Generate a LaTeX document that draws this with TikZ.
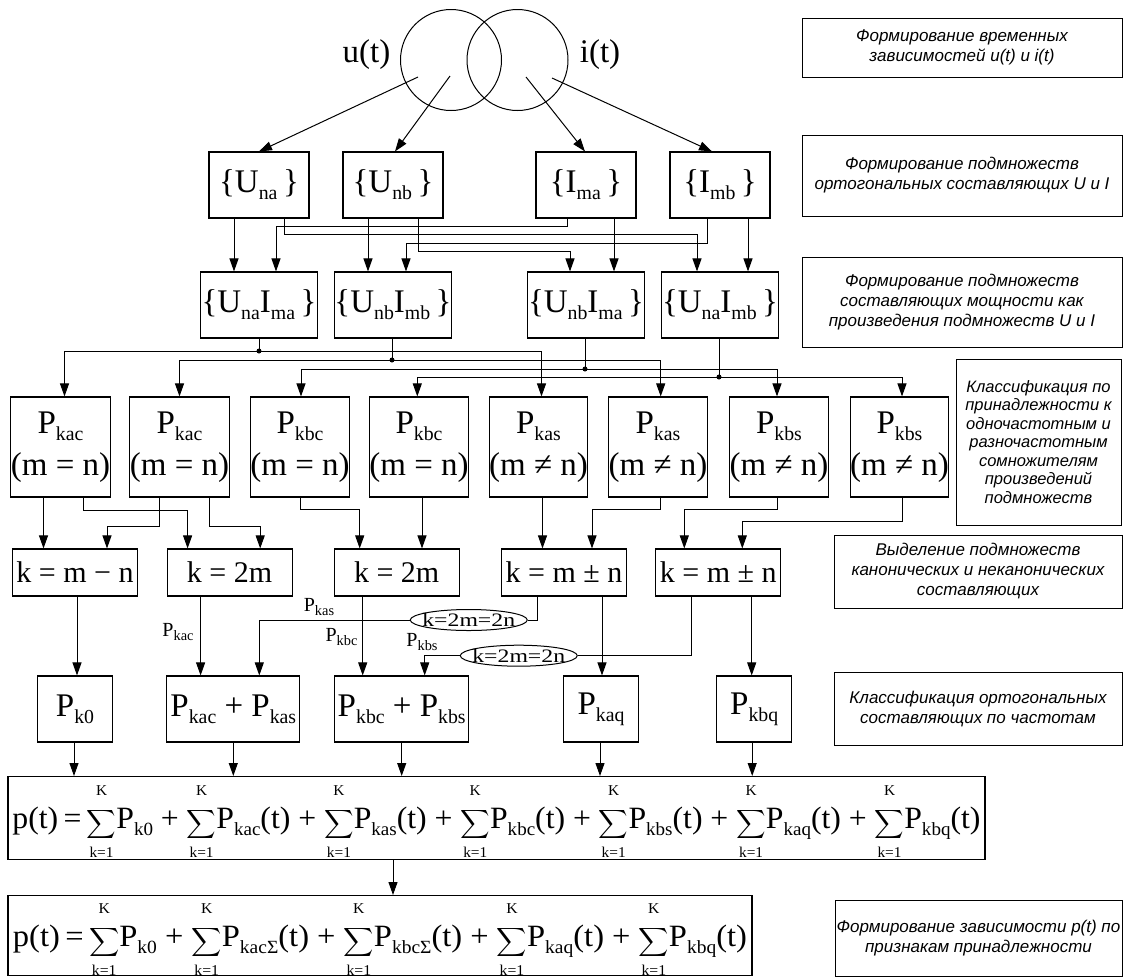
\documentclass[tikz,border=0pt]{standalone}
\usepackage{graphicx}
\usepackage{fontspec}
\setmainfont{Liberation Serif}
\newfontfamily\lsans{Liberation Sans}
\usetikzlibrary{arrows.meta,shapes.geometric}
\newcommand\lsub[1]{\raisebox{-0.22em}{\scalebox{0.6}{#1}}}
\newcommand\msub[1]{\raisebox{-0.22em}{\scalebox{0.72}{#1}}}
\newcommand\sumK{\hbox{%
 \setbox0\hbox{\resizebox*{!}{32pt}{\fontsize{10}{12}\selectfont$\displaystyle\sum$}}%
 \setbox2\hbox{\fontsize{15}{15}\selectfont K}%
 \setbox4\hbox{\fontsize{15}{15}\selectfont k=1}%
 \dimen0=\wd0 \ifdim\wd4>\dimen0 \dimen0=\wd4 \fi
 \hbox to\dimen0{\hss\raise\dimexpr\dp0-12pt\relax\box0\hss}%
 \kern-\dimen0
 \hbox to\dimen0{\hss\raise33pt\box2\hss}%
 \kern-\dimen0
 \hbox to\dimen0{\hss\lower29pt\box4\hss}}}
\tikzset{
  ln/.style={line width=1pt},
  arr/.style={line width=1pt, -{Triangle[length=13pt,width=9pt]}},
  bx/.style={draw, line width=1.1pt, inner sep=0pt, align=center},
  r2/.style={bx, minimum width=100pt, minimum height=66pt, font=\fontsize{33}{36}\selectfont},
  r3/.style={bx, minimum width=117pt, minimum height=66pt, font=\fontsize{33}{36}\selectfont},
  r4/.style={bx, minimum width=96pt, minimum height=100pt, font=\fontsize{33}{42}\selectfont},
  r5/.style={bx, minimum width=125pt, minimum height=47pt, font=\fontsize{30}{36}\selectfont},
  r6/.style={bx, minimum height=66pt, font=\fontsize{33}{36}\selectfont},
  desc/.style={draw, line width=1pt, inner sep=0pt, align=center, font=\lsans\itshape\fontsize{17}{20}\selectfont},
  lbl/.style={font=\fontsize{20}{22}\selectfont, inner sep=0pt},
  ell/.style={draw, ellipse, line width=1pt, inner sep=0pt, minimum width=117pt, minimum height=21pt},
  etxt/.style={inner sep=0pt, font=\fontsize{19}{21}\selectfont},
  dot/.style={circle, fill, inner sep=0pt, minimum size=5pt},
  circ/.style={draw, circle, line width=1pt, minimum size=101pt, inner sep=0pt},
  fbox/.style={bx, font=\fontsize{31}{36}\selectfont},
}
\begin{document}
\begin{tikzpicture}[x=1pt,y=-1pt]
\useasboundingbox (0,0) rectangle (1125,978);

% top circles
\node[circ] (cu) at (451,60) {};
\node[circ] (ci) at (517.5,60) {};
\node[font=\fontsize{33}{36}\selectfont, inner sep=0pt] (lu) at (366.5,55) {u(t)};
\node[font=\fontsize{33}{36}\selectfont, inner sep=0pt] (li) at (600,55) {i(t)};
\coordinate (s1) at (418,77);
\coordinate (s2) at (450,76);
\coordinate (s3) at (526,77);
\coordinate (s4) at (552,78);

% row 2
\node[r2] (una) at (259,185) {\{U\lsub{na}\,\}};
\node[r2] (unb) at (393,185) {\{U\lsub{nb}\,\}};
\node[r2] (ima) at (586,185) {\{I\lsub{ma}\,\}};
\node[r2] (imb) at (720,185) {\{I\lsub{mb}\,\}};

% row 3
\node[r3] (uaia) at (259,305) {\{U\lsub{na}I\lsub{ma}\,\}};
\node[r3] (ubib) at (393,305) {\{U\lsub{nb}I\lsub{mb}\,\}};
\node[r3] (ubia) at (586,305) {\{U\lsub{nb}I\lsub{ma}\,\}};
\node[r3] (uaib) at (720,305) {\{U\lsub{na}I\lsub{mb}\,\}};

% row 4
\node[r4] (p1) at (60.5,447) {P\lsub{kac}\\(m = n)};
\node[r4] (p2) at (179.5,447) {P\lsub{kac}\\(m = n)};
\node[r4] (p3) at (300,447) {P\lsub{kbc}\\(m = n)};
\node[r4] (p4) at (419,447) {P\lsub{kbc}\\(m = n)};
\node[r4] (p5) at (538.5,447) {P\lsub{kas}\\(m ≠ n)};
\node[r4] (p6) at (658,447) {P\lsub{kas}\\(m ≠ n)};
\node[r4] (p7) at (779,447) {P\lsub{kbs}\\(m ≠ n)};
\node[r4] (p8) at (899.5,447) {P\lsub{kbs}\\(m ≠ n)};

% row 5
\node[r5] (ka) at (75,572.5) {k = m − n};
\node[r5] (kb) at (229.6,572.5) {k = 2m};
\node[r5] (kc) at (396.7,572.5) {k = 2m};
\node[r5] (kd) at (564,572.5) {k = m ± n};
\node[r5] (ke) at (718.3,572.5) {k = m ± n};

% ellipses and labels
\node[ell] (e1) at (468.75,620) {};
\node[etxt] (e1t) at (e1.center) {\scalebox{1.25}[1]{k=2m=2n}};
\node[ell] (e2) at (518.75,655.7) {};
\node[etxt] (e2t) at (e2.center) {\scalebox{1.25}[1]{k=2m=2n}};
\node[lbl] (l1) at (178,632) {P\msub{kac}};
\node[lbl] (l2) at (319,607) {P\msub{kas}};
\node[lbl] (l3) at (341.5,637) {P\msub{kbc}};
\node[lbl] (l4) at (422,642) {P\msub{kbs}};

% row 6
\node[r6, minimum width=75.5pt] (qf) at (75,709) {P\lsub{k0}};
\node[r6, minimum width=133pt] (qg) at (233.3,709) {P\lsub{kac} + P\lsub{kas}};
\node[r6, minimum width=134pt] (qh) at (401.7,709) {P\lsub{kbc} + P\lsub{kbs}};
\node[r6, minimum width=74.5pt] (qi) at (601,709) {P\lsub{kaq}};
\node[r6, minimum width=75pt] (qj) at (754.2,709) {P\lsub{kbq}};

% formulas
\node[fbox, minimum width=977pt, text height=52pt, text depth=31pt, anchor=north] (f1) at (496.5,776)
 {\resizebox{968pt}{\height}{p(t)\,=\,\sumK P\lsub{k0} + \sumK P\lsub{kac}(t) + \sumK P\lsub{kas}(t) + \sumK P\lsub{kbc}(t) + \sumK P\lsub{kbs}(t) + \sumK P\lsub{kaq}(t) + \sumK P\lsub{kbq}(t)}};
\node[fbox, minimum width=744pt, text height=51pt, text depth=29pt, anchor=north] (f2) at (380,895)
 {\resizebox{734pt}{\height}{p(t)\,=\,\sumK P\lsub{k0} + \sumK P\lsub{kacΣ}(t) + \sumK P\lsub{kbcΣ}(t) + \sumK P\lsub{kaq}(t) + \sumK P\lsub{kbq}(t)}};

% description boxes
\node[desc, minimum width=320pt, minimum height=59pt] (t1) at (962,47.5) {Формирование временных\\зависимостей u(t) и i(t)};
\node[desc, minimum width=320pt, minimum height=81pt] (t2) at (962,175.5) {Формирование подмножеств\\ортогональных составляющих U и I};
\node[desc, minimum width=320pt, minimum height=90pt] (t3) at (962,302) {Формирование подмножеств\\составляющих мощности как\\произведения подмножеств U и I};
\node[desc, minimum width=165pt, minimum height=166pt, font=\lsans\itshape\fontsize{16.5}{18.5}\selectfont] (t4) at (1038.5,442) {Классификация по\\принадлежности к\\одночастотным и\\разночастотным\\сомножителям\\произведений\\подмножеств};
\node[desc, minimum width=288pt, minimum height=73pt] (t5) at (978,571.5) {Выделение подмножеств\\канонических и неканонических\\составляющих};
\node[desc, minimum width=288pt, minimum height=73pt] (t6) at (978,709) {Классификация ортогональных\\составляющих по частотам};
\node[desc, minimum width=287pt, minimum height=76pt] (t7) at (978.5,938) {Формирование зависимости p(t) по\\признакам принадлежности};

% circles -> row 2
\draw[arr] (s1) -- (una.north);
\draw[arr] (s2) -- ([xshift=2pt]unb.north);
\draw[arr] (s3) -- ([xshift=-1pt]ima.north);
\draw[arr] (s4) -- ([xshift=-8pt]imb.north);

% row 2 -> row 3
\draw[arr] ([xshift=-25pt]una.south) -- ([xshift=-25pt]uaia.north);
\draw[arr] ([xshift=25pt]una.south) -- ++(0,16) -| ([xshift=-23pt]uaib.north);
\draw[arr] ([xshift=-19pt]ima.south) -- ++(0,8) -| ([xshift=17pt]uaia.north);
\draw[arr] ([xshift=-25pt]unb.south) -- ([xshift=-25pt]ubib.north);
\draw[arr] ([xshift=25pt]unb.south) -- ++(0,33) -| ([xshift=-16pt]ubia.north);
\draw[arr] ([xshift=-13pt]imb.south) -- ++(0,25) -| ([xshift=13pt]ubib.north);
\draw[arr] ([xshift=28pt]ima.south) -- ([xshift=28pt]ubia.north);
\draw[arr] ([xshift=28pt]imb.south) -- ([xshift=28pt]uaib.north);

% row 3 -> row 4
\node[dot] (d1) at (259,351) {};
\node[dot] (d2) at (392,360) {};
\node[dot] (d3) at (585,369) {};
\node[dot] (d4) at (719,377) {};
\draw[ln] (uaia.south) -- (d1.center);
\draw[ln] ([xshift=-1pt]ubib.south) -- (d2.center);
\draw[ln] ([xshift=-1pt]ubia.south) -- (d3.center);
\draw[ln] ([xshift=-1pt]uaib.south) -- (d4.center);
\draw[arr] (d1.center) -| ([xshift=4pt]p1.north);
\draw[arr] (d1.center) -| ([xshift=3pt]p5.north);
\draw[arr] (d2.center) -| (p2.north);
\draw[arr] (d2.center) -| ([xshift=2.7pt]p6.north);
\draw[arr] (d3.center) -| ([xshift=1pt]p3.north);
\draw[arr] (d3.center) -| ([xshift=-2pt]p7.north);
\draw[arr] (d4.center) -| ([xshift=-1.7pt]p4.north);
\draw[arr] (d4.center) -| ([xshift=2.5pt]p8.north);

% row 4 -> row 5
\draw[arr] ([xshift=-17pt]p1.south) -- ([xshift=-17pt]p1.south |- ka.north);
\draw[arr] ([xshift=23pt]p1.south) -- ++(0,13) -| ([xshift=-42pt]kb.north);
\draw[arr] ([xshift=-20pt]p2.south) -- ++(0,29) -| ([xshift=32pt]ka.north);
\draw[arr] ([xshift=30pt]p2.south) -- ++(0,29) -| ([xshift=30.6pt]kb.north);
\draw[arr] (p3.south) -- ++(0,12) -| ([xshift=-37pt]kc.north);
\draw[arr] ([xshift=3pt]p4.south) -- ([xshift=3pt]p4.south |- kc.north);
\draw[arr] ([xshift=4pt]p5.south) -- ([xshift=4pt]p5.south |- kd.north);
\draw[arr] ([xshift=2pt]p6.south) -- ++(0,12) -| ([xshift=28pt]kd.north);
\draw[arr] ([xshift=-2pt]p7.south) -- ++(0,12) -| ([xshift=-34pt]ke.north);
\draw[arr] ([xshift=3pt]p8.south) -- ++(0,24) -| ([xshift=24pt]ke.north);

% row 5 -> row 6
\draw[arr] ([xshift=2pt]ka.south) -- ([xshift=2pt]ka.south |- qf.north);
\draw[arr] ([xshift=-29pt]kb.south) -- ([xshift=-29pt]kb.south |- qg.north);
\draw[arr] ([xshift=-34pt]kc.south) -- ([xshift=-34pt]kc.south |- qh.north);
\draw[ln] ([xshift=-27pt]kd.south) |- (e1.east);
\draw[arr] (e1.west) -| ([xshift=26pt]qg.north);
\draw[arr] ([xshift=38pt]kd.south) -- ([xshift=38pt]kd.south |- qi.north);
\draw[ln] ([xshift=-26.6pt]ke.south) |- (e2.east);
\draw[arr] (e2.west) -| ([xshift=23pt]qh.north);
\draw[arr] ([xshift=33.4pt]ke.south) -- ([xshift=33.4pt]ke.south |- qj.north);

% row 6 -> formula
\draw[arr] ([xshift=-1pt]qf.south) -- ([xshift=-1pt]qf.south |- f1.north);
\draw[arr] (qg.south) -- (qg.south |- f1.north);
\draw[arr] (qh.south) -- (qh.south |- f1.north);
\draw[arr] ([xshift=-1pt]qi.south) -- ([xshift=-1pt]qi.south |- f1.north);
\draw[arr] ([xshift=-2pt]qj.south) -- ([xshift=-2pt]qj.south |- f1.north);
\draw[arr] ([xshift=-103.5pt]f1.south) -- ([xshift=-103.5pt]f1.south |- f2.north);
\end{tikzpicture}
\end{document}
